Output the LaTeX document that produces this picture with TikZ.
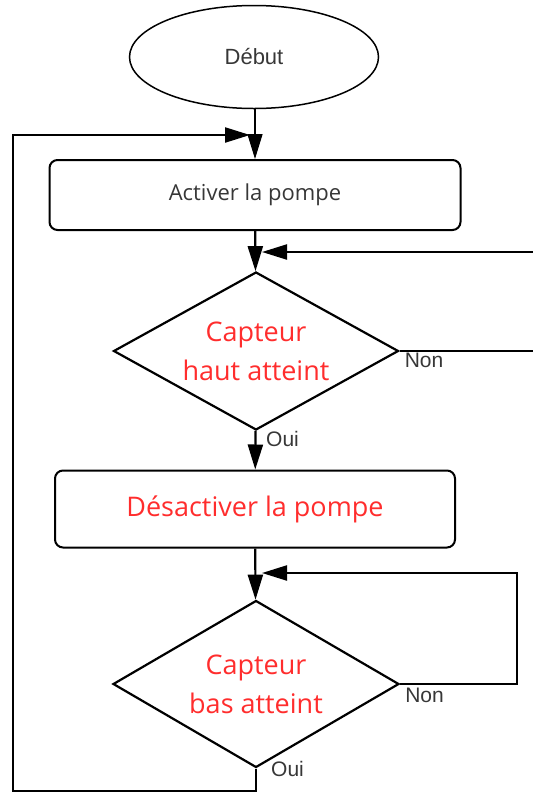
\documentclass[tikz,border=0pt]{standalone}
\usepackage{fontspec}
\usepackage{tikz}
\usetikzlibrary{shapes.geometric, arrows.meta, positioning}
\newfontfamily\bodyfont{Open Sans}
\newfontfamily\labelfont{Liberation Sans}
\definecolor{alertred}{RGB}{255,45,45}
\definecolor{labgray}{RGB}{55,55,55}

\begin{document}
\begin{tikzpicture}[x=1pt, y=-1pt,
    startstop/.style={ellipse, draw, line width=1.5pt, minimum width=249pt, minimum height=103pt, font=\labelfont\fontsize{22}{26}\selectfont, text=labgray},
    block/.style={rectangle, draw, line width=2pt, rounded corners=8pt, align=center, font=\bodyfont\fontsize{22}{26}\selectfont, text=labgray},
    decision/.style={diamond, draw, line width=2.2pt, inner sep=0pt},
    redtext/.style={align=center, text=alertred, font=\bodyfont\fontsize{27}{39}\selectfont},
    arrow/.style={-{Triangle[length=25pt, width=15pt]}, line width=2.2pt},
    branch/.style={font=\labelfont\fontsize{21}{24}\selectfont, text=labgray, inner sep=1pt}
]
\useasboundingbox (0,0) rectangle (533,793);
\clip (0,0) rectangle (533,793);

% Start
\node[startstop] (start) at (254,57) {Début};

% Pump on
\node[block, minimum width=411pt, minimum height=70pt] (pumpon) at (255,195) {Activer la pompe};

% High sensor test
\node[decision, minimum width=285pt, minimum height=158pt,
      label={[redtext]center:{Capteur\\haut atteint}}] (highsens) at (256,351) {};

% Pump off
\node[block, minimum width=400pt, minimum height=77pt, text=alertred, font=\bodyfont\fontsize{27}{32}\selectfont] (pumpoff) at (255,509) {Désactiver la pompe};

% Low sensor test
\node[decision, minimum width=286pt, minimum height=167pt,
      label={[redtext]center:{Capteur\\bas atteint}}] (lowsens) at (256,684) {};

% Loop points
\coordinate (mergetop) at (250,135);
\coordinate (mergehigh) at (262,252);
\coordinate (mergelow) at (262,573);
\coordinate (farright) at (545,351);
\coordinate (rightlow) at (517,684);
\coordinate (bottomleft) at (13,791);

% Arrows
\draw[arrow, line width=1.4pt] (start.south -| pumpon.north) -- (pumpon.north);
\draw[arrow] (pumpon) -- (highsens);
\draw[arrow] (highsens) -- (pumpoff);
\draw[arrow] (pumpoff) -- (lowsens);
\draw[arrow] (highsens.east) -- (farright) |- (mergehigh);
\draw[arrow] (lowsens.east) -- (rightlow) |- (mergelow);
\draw[arrow] (lowsens.south) |- (bottomleft) |- (mergetop);

% Labels
\node[branch, anchor=north west] (nonhigh) at ([xshift=4pt, yshift=-1pt]highsens.east) {Non};
\node[branch, anchor=west] (ouihigh) at ([xshift=9pt, yshift=-8pt]highsens.south) {Oui};
\node[branch, anchor=north west] (nonlow) at ([xshift=4pt, yshift=-3pt]lowsens.east) {Non};
\node[branch, anchor=west] (ouilow) at ([xshift=14pt]lowsens.south) {Oui};

\end{tikzpicture}
\end{document}
